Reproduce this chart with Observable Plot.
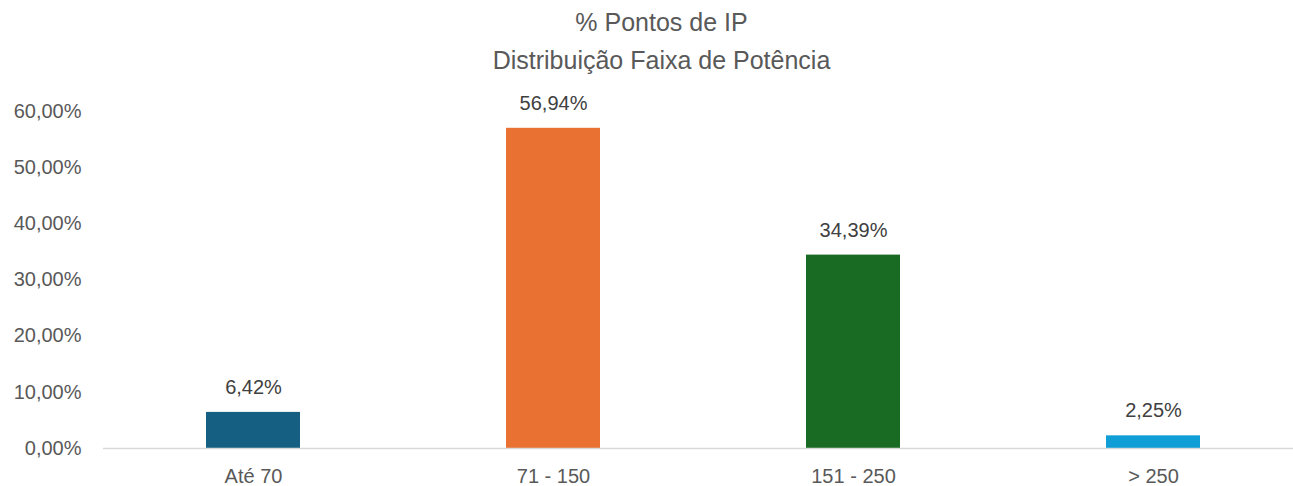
<!DOCTYPE html>
<html>
<head>
<meta charset="utf-8">
<script src="https://cdn.jsdelivr.net/npm/d3@7"></script>
<script src="https://cdn.jsdelivr.net/npm/@observablehq/plot@0.6"></script>
<style>
  html, body { margin: 0; padding: 0; background: #fff; }
  #wrap { width: 1293px; height: 486px; font-family: "Liberation Sans", Arial, sans-serif; overflow: hidden; }
  #title { height: 80px; box-sizing: border-box; padding-left: 30px; text-align: center; color: #595959; font-size: 25px; line-height: 38px; padding-top: 3px; }
  svg { display: block; }
</style>
</head>
<body>
<div id="wrap">
  <div id="title">% Pontos de IP<br>Distribuição Faixa de Potência</div>
  <div id="chart"></div>
</div>
<script>
const categories = ["Até 70", "71 - 150", "151 - 250", "> 250"];
const values = [0.0642, 0.5694, 0.3439, 0.0225];
const colors = ["#156082", "#E97132", "#196B24", "#0F9ED5"];
const yTicks = [0, 0.1, 0.2, 0.3, 0.4, 0.5, 0.6];

const ptBR = d3.formatLocale({decimal: ",", thousands: ".", grouping: [3], currency: ["R$", ""]});
const fmt = ptBR.format(".2%");

const data = categories.map((c, i) => ({category: c, value: values[i], color: colors[i]}));

const chart = Plot.plot({
  width: 1293,
  height: 406,
  marginLeft: 103,
  marginRight: 0,
  marginTop: 30.6,
  marginBottom: 38,
  style: {fontFamily: "'Liberation Sans', Arial, sans-serif", fontSize: "20px", color: "#595959", background: "#fff", overflow: "visible"},
  x: {domain: categories, range: [103, 1303], paddingInner: 0.687, paddingOuter: 0.3435, align: 0.5, label: null},
  y: {domain: [0, 0.6], label: null},
  marks: [
    Plot.axisY({ticks: yTicks, tickFormat: fmt, tickSize: 0, tickPadding: 22, fontSize: 20, fill: "#595959", label: null}),
    Plot.axisX({tickSize: 0, tickPadding: 20, fontSize: 20, fill: "#595959", label: null}),
    Plot.barY(data, {x: "category", y: "value", fill: "color"}),
    Plot.ruleY([0], {stroke: "#d9d9d9", strokeWidth: 1.5}),
    Plot.text(data, {x: "category", y: "value", text: d => fmt(d.value), dy: -25, fontSize: 20, fill: "#404040"})
  ]
});
document.getElementById("chart").appendChild(chart);
</script>
</body>
</html>
